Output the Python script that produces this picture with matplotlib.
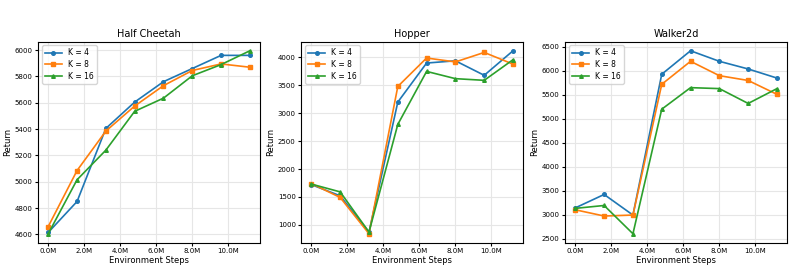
import numpy as np
import matplotlib
matplotlib.use('Agg')
import matplotlib.pyplot as plt
from matplotlib.ticker import FuncFormatter, MultipleLocator

# Environment steps (millions)
steps = [0.0, 1.6, 3.2, 4.8, 6.4, 8.0, 9.6, 11.2]
labels = ['K = 4', 'K = 8', 'K = 16']

cheetah_k4 = [4615, 4850, 5405, 5605, 5760, 5860, 5960, 5960]
cheetah_k8 = [4660, 5085, 5385, 5575, 5730, 5845, 5895, 5870]
cheetah_k16 = [4605, 5015, 5240, 5535, 5635, 5805, 5890, 5995]

hopper_k4 = [1720, 1520, 870, 3200, 3900, 3940, 3680, 4120]
hopper_k8 = [1740, 1490, 840, 3480, 3990, 3920, 4090, 3880]
hopper_k16 = [1730, 1590, 870, 2800, 3750, 3620, 3590, 3960]

walker_k4 = [3140, 3420, 2990, 5930, 6420, 6200, 6040, 5850]
walker_k8 = [3100, 2970, 2990, 5720, 6200, 5900, 5800, 5510]
walker_k16 = [3130, 3190, 2600, 5200, 5650, 5630, 5320, 5630]

panels = [
    ('Half Cheetah', [cheetah_k4, cheetah_k8, cheetah_k16], 200),
    ('Hopper', [hopper_k4, hopper_k8, hopper_k16], 500),
    ('Walker2d', [walker_k4, walker_k8, walker_k16], 500),
]

colors = ['#1f77b4', '#ff7f0e', '#2ca02c']
markers = ['o', 's', '^']

fig = plt.figure(figsize=(7.95, 2.72), dpi=100)
lefts = [0.048, 0.379, 0.711]
width = 0.279

for left, (title, series, ystep) in zip(lefts, panels):
    ax = fig.add_axes([left, 0.107, width, 0.74])
    for vals, c, m, lab in zip(series, colors, markers, labels):
        ax.plot(steps, vals, color=c, marker=m, markersize=2.6, linewidth=1.2, label=lab)
    ax.set_title(title, fontsize=7, pad=3)
    ax.set_xlabel('Environment Steps', fontsize=6, labelpad=1)
    ax.set_ylabel('Return', fontsize=6, labelpad=2)
    ax.xaxis.set_major_locator(MultipleLocator(2))
    ax.xaxis.set_major_formatter(FuncFormatter(lambda v, p: f'{v:.1f}M'))
    ax.yaxis.set_major_locator(MultipleLocator(ystep))
    ax.tick_params(labelsize=5, length=2, pad=2)
    ax.grid(True, color='#e6e6e6', linewidth=0.8)
    ax.set_axisbelow(True)
    ax.legend(loc='upper left', fontsize=5.5, handlelength=2.2, borderpad=0.4,
              labelspacing=0.35)

fig.savefig('out.png', dpi=100)
